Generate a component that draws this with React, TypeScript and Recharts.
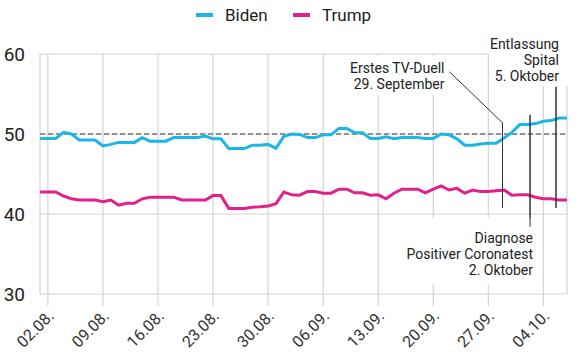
import React from "react";
import { LineChart, Line, XAxis, YAxis, CartesianGrid, ReferenceLine } from "recharts";

const dates = [
  "01.08.", "02.08.", "03.08.", "04.08.", "05.08.", "06.08.", "07.08.", "08.08.", "09.08.", "10.08.",
  "11.08.", "12.08.", "13.08.", "14.08.", "15.08.", "16.08.", "17.08.", "18.08.", "19.08.", "20.08.",
  "21.08.", "22.08.", "23.08.", "24.08.", "25.08.", "26.08.", "27.08.", "28.08.", "29.08.", "30.08.",
  "31.08.", "01.09.", "02.09.", "03.09.", "04.09.", "05.09.", "06.09.", "07.09.", "08.09.", "09.09.",
  "10.09.", "11.09.", "12.09.", "13.09.", "14.09.", "15.09.", "16.09.", "17.09.", "18.09.", "19.09.",
  "20.09.", "21.09.", "22.09.", "23.09.", "24.09.", "25.09.", "26.09.", "27.09.", "28.09.", "29.09.",
  "30.09.", "01.10.", "02.10.", "03.10.", "04.10.", "05.10.", "06.10.", "07.10.",
];

const biden = [
  49.45, 49.45, 49.45, 50.2, 50.0, 49.25, 49.25, 49.25, 48.5, 48.7,
  48.95, 48.95, 48.95, 49.55, 49.1, 49.1, 49.1, 49.55, 49.55, 49.55,
  49.55, 49.75, 49.4, 49.4, 48.2, 48.2, 48.2, 48.6, 48.6, 48.7,
  48.2, 49.7, 50.0, 49.95, 49.55, 49.55, 49.9, 49.9, 50.7, 50.7,
  50.15, 50.15, 49.45, 49.45, 49.65, 49.4, 49.55, 49.55, 49.55, 49.45,
  49.45, 50.0, 49.9, 49.4, 48.6, 48.6, 48.75, 48.85, 48.85, 49.5,
  50.2, 51.2, 51.2, 51.3, 51.6, 51.7, 52.0, 52.0,
];

const trump = [
  42.75, 42.75, 42.75, 42.25, 41.9, 41.75, 41.75, 41.75, 41.55, 41.75,
  41.1, 41.35, 41.35, 41.9, 42.1, 42.1, 42.1, 42.1, 41.75, 41.75,
  41.75, 41.75, 42.3, 42.3, 40.7, 40.7, 40.7, 40.85, 40.9, 41.0,
  41.3, 42.75, 42.4, 42.35, 42.8, 42.8, 42.6, 42.6, 43.1, 43.1,
  42.65, 42.65, 42.35, 42.4, 41.9, 42.6, 43.1, 43.1, 43.1, 42.65,
  43.1, 43.5, 43.0, 43.2, 42.6, 43.0, 42.8, 42.8, 42.9, 43.0,
  42.35, 42.4, 42.4, 42.1, 41.9, 41.9, 41.75, 41.75,
];

const tickDates = ["02.08.", "09.08.", "16.08.", "23.08.", "30.08.", "06.09.", "13.09.", "20.09.", "27.09.", "04.10."];
const yTicks = [30, 40, 50, 60];

// event markers: position on the day axis and vertical extent in poll %
const tvDuell = { text: ["Erstes TV-Duell", "29. September"], at: 58.8, from: 51.4, to: 40.75 };
const diagnose = { text: ["Diagnose", "Positiver Coronatest", "2. Oktober"], at: 62.3, from: 52.4, to: 38.4 };
const spital = { text: ["Entlassung", "Spital", "5. Oktober"], at: 65.6, from: 55.9, to: 40.75 };

const BIDEN = "#1cb6e6";
const TRUMP = "#e0218c";
const FONT = "Roboto, 'Noto Sans', sans-serif";

const data = dates.map((d, i) => ({ i, date: d, Biden: biden[i], Trump: trump[i] }));

const DateTick = (props: any) => {
  const { x, y, payload } = props;
  return (
    <text
      transform={`translate(${x + 7},${y + 9}) rotate(-45)`}
      textAnchor="end"
      fontSize={16}
      fill="#333"
      fontFamily={FONT}
    >
      {dates[payload.value]}
    </text>
  );
};

const Note = (props: any) => {
  const { viewBox, text, tx, ty, box, leader, end } = props;
  const x = viewBox.x;
  const y = viewBox.y;
  return (
    <g>
      <rect x={x + box[0]} y={y + box[1]} width={box[2]} height={box[3]} fill="#fff" />
      {leader && <line x1={x + leader[0]} y1={y + leader[1]} x2={x} y2={y} stroke="#333" strokeWidth={1} />}
      <line x1={x} y1={y} x2={x} y2={y + end} stroke="#333" strokeWidth={1} />
      {text.map((t: string, k: number) => (
        <text key={k} x={x + tx} y={y + ty + 16 * k} textAnchor="end" fontSize={14} fill="#222" fontFamily={FONT}>
          {t}
        </text>
      ))}
    </g>
  );
};

export default function App() {
  return (
    <div style={{ position: "absolute", left: 0, top: 0, width: 582, height: 355, background: "#fff" }}>
      <svg width={582} height={40} style={{ position: "absolute", left: 0, top: 0 }}>
        <rect x={196} y={13} width={17} height={4} fill={BIDEN} />
        <text x={225} y={21} fontSize={17} fill="#222" fontFamily={FONT}>Biden</text>
        <rect x={293} y={13} width={17} height={4} fill={TRUMP} />
        <text x={322} y={21} fontSize={17} fill="#222" fontFamily={FONT}>Trump</text>
      </svg>
      <LineChart width={582} height={355} data={data} margin={{ top: 54, right: 15, left: 0, bottom: 0 }}>
        <CartesianGrid stroke="#d4d4d4" strokeWidth={1.2} />
        <XAxis
          dataKey="i"
          type="number"
          domain={[0, dates.length - 1]}
          ticks={tickDates.map((d) => dates.indexOf(d))}
          interval={0}
          tick={<DateTick />}
          tickSize={12}
          tickLine={{ stroke: "#d4d4d4", strokeWidth: 1.2 }}
          axisLine={false}
          height={61}
        />
        <YAxis
          domain={[30, 60]}
          ticks={yTicks}
          width={40}
          axisLine={false}
          tickLine={false}
          tickMargin={9}
          tick={{ fontSize: 19, fill: "#222", fontFamily: FONT }}
        />
        <ReferenceLine y={50} stroke="#777" strokeDasharray="5 3" strokeWidth={1.5} />
        <Line type="linear" dataKey="Biden" stroke={BIDEN} strokeWidth={3} dot={false} isAnimationActive={false} />
        <Line type="linear" dataKey="Trump" stroke={TRUMP} strokeWidth={3} dot={false} isAnimationActive={false} />
        <ReferenceLine
          segment={[{ x: tvDuell.at, y: tvDuell.from }, { x: tvDuell.at, y: tvDuell.to }]}
          stroke="#333"
          label={<Note text={tvDuell.text} tx={-58} ty={-49.5} box={[-157, -67, 105, 39]} leader={[-53, -51]} end={85} />}
        />
        <ReferenceLine
          segment={[{ x: diagnose.at, y: diagnose.from }, { x: diagnose.at, y: diagnose.to }]}
          stroke="#333"
          label={<Note text={diagnose.text} tx={3} ty={128.5} box={[-125, 103, 133, 67]} end={112} />}
        />
        <ReferenceLine
          segment={[{ x: spital.at, y: spital.from }, { x: spital.at, y: spital.to }]}
          stroke="#333"
          label={<Note text={spital.text} tx={3} ty={-38} box={[-67, -59, 81, 58]} end={121} />}
        />
      </LineChart>
    </div>
  );
}
